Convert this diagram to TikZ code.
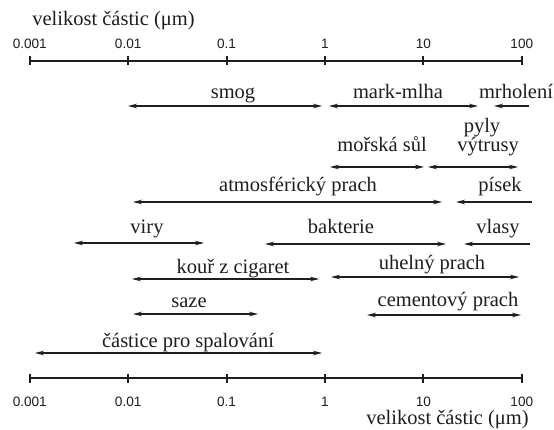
\documentclass[tikz,border=0pt]{standalone}
\usepackage{fontspec}
\setmainfont{Liberation Serif}
\newfontfamily\ticksf{Liberation Sans}
\usetikzlibrary{arrows.meta}
\definecolor{ink}{HTML}{1E1E1E}
\tikzset{
  lbl/.style={anchor=base, inner sep=0pt, text=ink, font=\fontsize{20.5}{24}\selectfont},
  ticklbl/.style={anchor=base, inner sep=0pt, text=ink, font=\ticksf\fontsize{13.6}{16}\selectfont},
  axisline/.style={draw=ink, line width=2.3pt},
  tickmark/.style={draw=ink, line width=2pt},
  sizerange/.style={draw=ink, line width=1.3pt, {Stealth[length=9pt,width=4.6pt]}-{Stealth[length=9pt,width=4.6pt]}},
  lsizerange/.style={draw=ink, line width=1.3pt, {Stealth[length=9pt,width=4.6pt]}-},
}
\begin{document}
\begin{tikzpicture}[x=1pt,y=-1pt]
\useasboundingbox (0,0) rectangle (554,430);
% axes
\coordinate (tA) at (29.8,61); \coordinate (tB) at (521.8,61);
\coordinate (bA) at (29.8,378); \coordinate (bB) at (521.8,378);
\draw[axisline] (tA) -- (tB);
\draw[axisline] (bA) -- (bB);
\foreach \i/\t in {0/0.001,1/0.01,2/0.1,3/1,4/10,5/100}{
  \coordinate (tt\i) at ({29.8+98.4*\i},61);
  \coordinate (bt\i) at ({29.8+98.4*\i},378);
  \draw[tickmark] ([yshift=4.5pt]tt\i) -- ([yshift=-4.5pt]tt\i);
  \draw[tickmark] ([yshift=4.5pt]bt\i) -- ([yshift=-4.5pt]bt\i);
  \node[ticklbl] (tl\i) at ({29.8+98.4*\i},48.5) {\t};
  \node[ticklbl] (bl\i) at ({29.8+98.4*\i},406) {\t};
}
\node[lbl] (ttitle) at (113.5,26) {velikost částic (μm)};
\node[lbl] (btitle) at (447.5,424) {velikost částic (μm)};

% labels
\node[lbl] (smog) at (233,99) {smog};
\node[lbl] (mark) at (398,99) {mark-mlha};
\node[lbl] (mrh) at (516,99) {mrholení};
\node[lbl] (pyly) at (482,133) {pyly};
\node[lbl] (vytr) at (488,152) {výtrusy};
\node[lbl] (sul) at (382,152) {mořská sůl};
\node[lbl] (atm) at (298,192) {atmosférický prach};
\node[lbl] (pisek) at (500,192) {písek};
\node[lbl] (viry) at (147,234) {viry};
\node[lbl] (bakt) at (341,234) {bakterie};
\node[lbl] (vlasy) at (498,234) {vlasy};
\node[lbl] (kour) at (233,273) {kouř z cigaret};
\node[lbl] (uhel) at (432,270) {uhelný prach};
\node[lbl] (saze) at (189,307) {saze};
\node[lbl] (cem) at (448,306) {cementový prach};
\node[lbl] (spal) at (188,347) {částice pro spalování};

% range arrows
\coordinate (smogL) at (128,106); \coordinate (smogR) at (322,106);
\coordinate (markL) at (329,106); \coordinate (markR) at (478,106);
\coordinate (mrhL) at (494,106); \coordinate (mrhR) at (529,106);
\coordinate (sulL) at (330,167); \coordinate (sulR) at (424,167);
\coordinate (vytL) at (428,167); \coordinate (vytR) at (518,167);
\coordinate (atmL) at (133,202); \coordinate (atmR) at (442,202);
\coordinate (pisL) at (456,202); \coordinate (pisR) at (532,202);
\coordinate (viryL) at (74,243); \coordinate (viryR) at (204,243);
\coordinate (baktL) at (265,244); \coordinate (baktR) at (446,244);
\coordinate (vlasL) at (464,244); \coordinate (vlasR) at (530,244);
\coordinate (kourL) at (132,279); \coordinate (kourR) at (319,279);
\coordinate (uhelL) at (331,277); \coordinate (uhelR) at (519,277);
\coordinate (sazeL) at (133,314); \coordinate (sazeR) at (258,314);
\coordinate (cemL) at (367,315); \coordinate (cemR) at (521,315);
\coordinate (spalL) at (35,353); \coordinate (spalR) at (322,353);

\draw[sizerange] (smogL) -- (smogR);
\draw[sizerange] (markL) -- (markR);
\draw[lsizerange] (mrhL) -- (mrhR);
\draw[sizerange] (sulL) -- (sulR);
\draw[sizerange] (vytL) -- (vytR);
\draw[sizerange] (atmL) -- (atmR);
\draw[lsizerange] (pisL) -- (pisR);
\draw[sizerange] (viryL) -- (viryR);
\draw[sizerange] (baktL) -- (baktR);
\draw[lsizerange] (vlasL) -- (vlasR);
\draw[sizerange] (kourL) -- (kourR);
\draw[sizerange] (uhelL) -- (uhelR);
\draw[sizerange] (sazeL) -- (sazeR);
\draw[sizerange] (cemL) -- (cemR);
\draw[sizerange] (spalL) -- (spalR);
\end{tikzpicture}
\end{document}
